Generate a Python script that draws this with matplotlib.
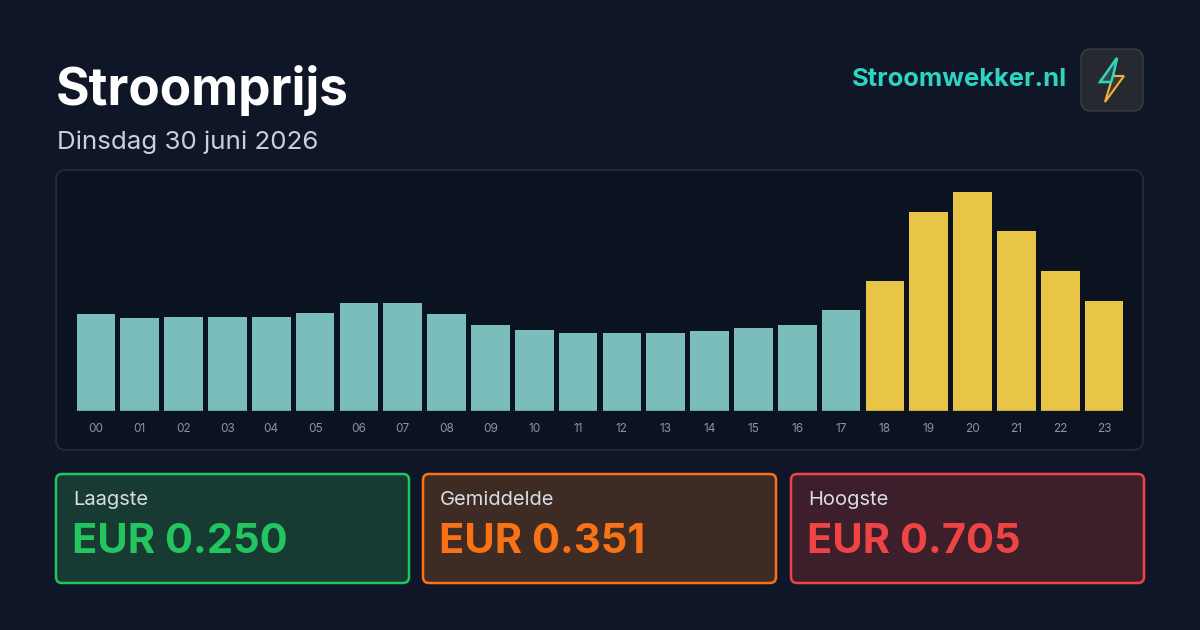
import matplotlib.pyplot as plt
from matplotlib.patches import FancyBboxPatch, Polygon

hours = ['00', '01', '02', '03', '04', '05', '06', '07', '08', '09', '10', '11',
         '12', '13', '14', '15', '16', '17', '18', '19', '20', '21', '22', '23']
prices = [0.312, 0.299, 0.303, 0.303, 0.303, 0.316, 0.348, 0.348, 0.312, 0.277, 0.261, 0.251,
          0.250, 0.251, 0.258, 0.267, 0.277, 0.325, 0.419, 0.641, 0.705, 0.580, 0.451, 0.354]
peak_hours = ['18', '19', '20', '21', '22', '23']
stat_labels = ['Laagste', 'Gemiddelde', 'Hoogste']
stat_values = ['EUR 0.250', 'EUR 0.351', 'EUR 0.705']

plt.rcParams['font.family'] = ['Inter', 'DejaVu Sans']
BG = '#0f1628'

fig = plt.figure(figsize=(12, 6.3), dpi=100, facecolor=BG)
bg = fig.add_axes([0, 0, 1, 1])
bg.set_xlim(0, 1200); bg.set_ylim(630, 0); bg.axis('off')

# header
bg.text(56, 91, 'Stroomprijs', color='white', fontsize=37, fontweight='bold', va='center')
bg.text(57, 142, 'Dinsdag 30 juni 2026', color='#c8d0dc', fontsize=18.7, va='center')
bg.text(1067, 80, 'Stroomwekker.nl', color='#2dd4bf', fontsize=18.4, fontweight='bold', va='center', ha='right')
bg.add_patch(FancyBboxPatch((1081, 49), 62, 62, boxstyle='round,pad=0,rounding_size=10',
                            fc='#262a30', ec='#3a3f47', lw=1))
bolt = [(1117, 58), (1100, 82), (1111, 82), (1105, 102), (1124, 76), (1113, 76), (1117, 58)]
bg.add_patch(Polygon(bolt, closed=True, fc='#3a3a2a', ec='#f0b040', lw=1.5))
bg.add_patch(Polygon(bolt[:3] + [(1113, 76)], closed=True, fc='#2a4a48', ec='#2dd4bf', lw=1.8))

# chart panel
bg.add_patch(FancyBboxPatch((56, 170), 1087, 280, boxstyle='round,pad=0,rounding_size=10',
                            fc='#0b1220', ec='#1f2a3a', lw=1.5))

ax = fig.add_axes([74 / 1200, 1 - 411 / 630, 1052 / 1200, (411 - 180) / 630])
ax.set_facecolor('none')
colors = ['#e8c547' if h in peak_hours else '#7bbcbc' for h in hours]
ax.bar(range(len(hours)), prices, width=0.88, color=colors)
ax.set_xlim(-0.5, len(hours) - 0.5)
ax.set_ylim(0, max(prices) * (411 - 180) / 219)
ax.set_xticks(range(len(hours)), hours)
ax.tick_params(axis='x', length=0, colors='#8a94a6', labelsize=8.5, pad=9)
ax.set_yticks([])
for s in ax.spines.values():
    s.set_visible(False)
ax.axhline(0, color='#2a3444', lw=1)

# stat cards
card_x = [56, 423, 791]
card_ec = ['#22c55e', '#f97316', '#ef4444']
card_fc = ['#173a33', '#3e2b24', '#3d1f2c']
for x, lab, val, ec, fc in zip(card_x, stat_labels, stat_values, card_ec, card_fc):
    bg.add_patch(FancyBboxPatch((x, 474), 353, 109, boxstyle='round,pad=0,rounding_size=6',
                                fc=fc, ec=ec, lw=1.8))
    bg.text(x + 17, 500, lab, color='#d8dde5', fontsize=14.5, va='center')
    bg.text(x + 16, 542, val, color=ec, fontsize=30, fontweight='bold', va='center')

fig.savefig('out.png', dpi=100, facecolor=BG)
